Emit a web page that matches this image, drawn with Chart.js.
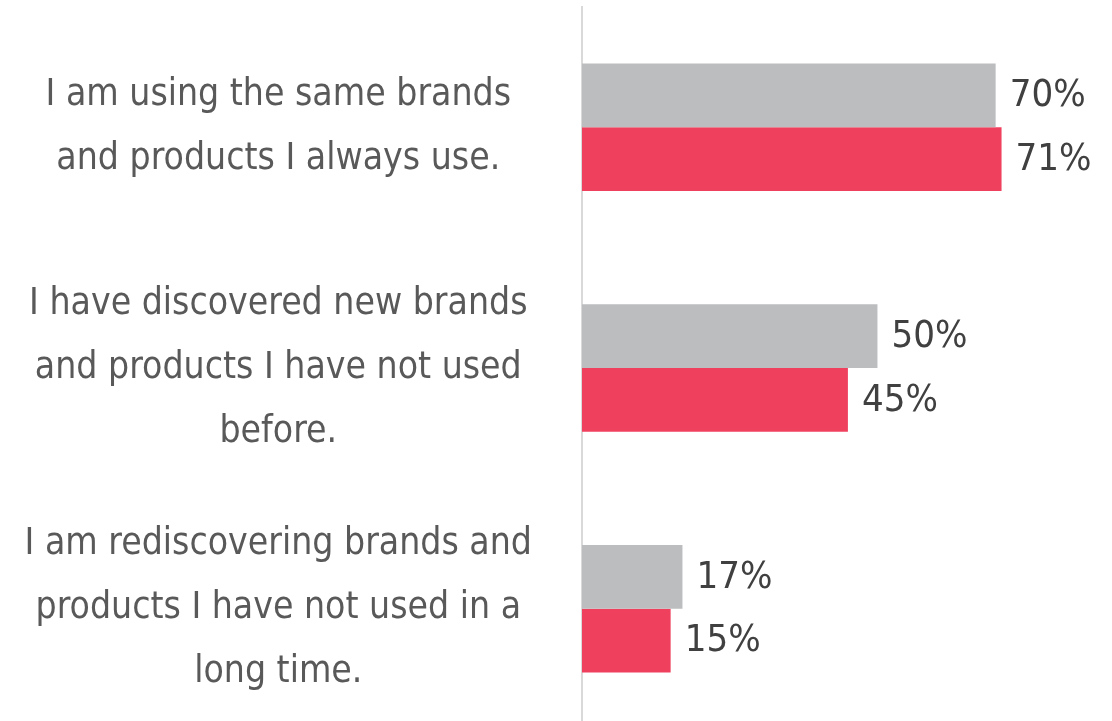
<!DOCTYPE html>
<html>
<head>
<meta charset="utf-8">
<script src="https://cdn.jsdelivr.net/npm/chart.js@4"></script>
<style>
  html, body { margin: 0; padding: 0; background: #fff; overflow: hidden; }
  #wrap { width: 1112px; height: 729px; }
</style>
</head>
<body>
<div id="wrap"><canvas id="brandChart"></canvas></div>
<script>
// Survey answers and the two series shown for each
const categories = [
  ['I am using the same brands', 'and products I always use.'],
  ['I have discovered new brands', 'and products I have not used', 'before.'],
  ['I am rediscovering brands and', 'products I have not used in a', 'long time.']
];
const seriesGray = [70, 50, 17];
const seriesRed = [71, 45, 15];

const FONT = '"DejaVu Sans Condensed", sans-serif';

// Draw "NN%" just past the end of each bar
const valueLabels = {
  id: 'valueLabels',
  afterDatasetsDraw(chart) {
    const ctx = chart.ctx;
    ctx.save();
    ctx.font = '38px ' + FONT;
    ctx.fillStyle = '#404040';
    ctx.textAlign = 'left';
    ctx.textBaseline = 'middle';
    chart.data.datasets.forEach((ds, i) => {
      chart.getDatasetMeta(i).data.forEach((bar, j) => {
        ctx.fillText(ds.data[j] + '%', bar.x + 14, bar.y + 1);
      });
    });
    ctx.restore();
  }
};

new Chart(document.getElementById('brandChart'), {
  type: 'bar',
  data: {
    labels: categories,
    datasets: [
      { data: seriesGray, backgroundColor: '#bcbdbf' },
      { data: seriesRed, backgroundColor: '#ef405e' }
    ]
  },
  options: {
    indexAxis: 'y',
    responsive: true,
    maintainAspectRatio: false,
    animation: false,
    categoryPercentage: 0.53,
    barPercentage: 1.0,
    layout: { padding: { top: 7, right: 10, bottom: 0, left: 0 } },
    plugins: {
      legend: { display: false },
      tooltip: { enabled: false }
    },
    scales: {
      x: {
        display: false,
        min: 0,
        max: 88
      },
      y: {
        grid: { display: false, drawTicks: false },
        border: { display: true, color: '#d9d9d9', width: 2 },
        afterFit(scale) {
          scale.width = 582;
          scale.paddingTop = 0;
          scale.paddingBottom = 0;
        },
        ticks: {
          crossAlign: 'center',
          padding: 50,
          color: '#595959',
          font: { family: FONT, size: 37, lineHeight: 1.73 }
        }
      }
    }
  },
  plugins: [valueLabels]
});
</script>
</body>
</html>
